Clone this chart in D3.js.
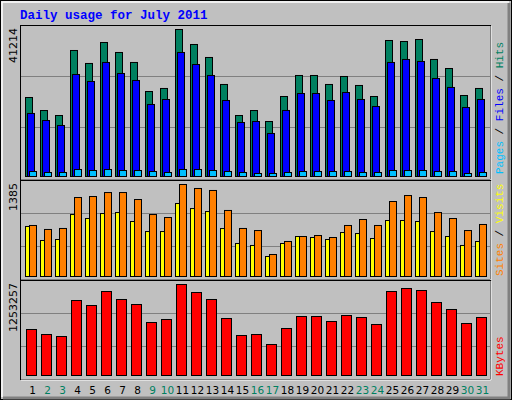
<!DOCTYPE html><html><head><meta charset="utf-8">
<script src="https://cdn.jsdelivr.net/npm/d3@7"></script>
<style>body{margin:0;background:#fff}</style></head><body><svg id="c" width="512" height="400"></svg>
<script>
const days = d3.range(1,32);
const weekend = [2,3,9,10,16,17,23,24,30,31];
const hits = [22150,18500,17100,35330,31690,37570,34770,31970,23830,24680,41214,37010,33370,25800,17100,18500,15420,22430,28320,28320,25800,28040,25520,22430,38130,37850,38410,32810,30280,22710,24680];
const files = [17670,15700,14300,28600,26640,31970,28880,26920,20190,21590,34770,31400,28320,21310,15140,15420,12060,18510,23270,23270,21310,23550,21590,19630,31970,32810,32250,27480,24960,19350,21590];
const pages = [1400,1120,1120,1960,1680,1960,1680,1680,1400,1120,1960,1960,1680,1400,1120,840,840,1120,1400,1400,1400,1400,1120,1120,1680,1680,1680,1400,1400,840,1120];
const visits = [768,708,723,1189,1204,1264,1264,1159,933,888,1385,1325,1295,994,723,692,331,527,602,617,587,768,858,768,1129,1219,1189,963,873,692,783];
const sites = [753,542,557,933,873,948,963,828,677,677,1099,1023,978,722,497,467,301,497,602,587,557,662,647,572,843,843,828,677,602,467,527];
const kbytes = [633500,564650,537100,1032900,964000,1156800,1046700,977800,729900,771200,1253257,1143100,1046700,785000,550900,564650,426900,647300,812500,812500,743700,826300,798800,702400,1156800,1198200,1170600,1005400,909000,716100,798800];
const maxLabels = ["41214","1385","1253257"];

const svg = d3.select("#c");
svg.append("rect").attr("x",0.5).attr("y",0.5).attr("width",511).attr("height",399).attr("fill","#c0c0c0").attr("stroke","#000");
svg.append("path").attr("d","M2,397V2H509").attr("stroke","#fff").attr("fill","none").attr("stroke-width",1.5);
svg.append("path").attr("d","M509,3V398H3").attr("stroke","#808080").attr("fill","none").attr("stroke-width",3);
svg.append("text").attr("x",20).attr("y",19).text("Daily usage for July 2011")
  .attr("font-family","Liberation Mono, DejaVu Sans Mono, monospace").attr("font-weight","bold").attr("font-size",12.5).attr("fill","#0000ff");

const x = d3.scaleBand().domain(days).range([24,489]).paddingInner(0);
const bw = x.bandwidth();
const panels = [
  {top:25,bottom:179,base:176,max:41214,grids:[127,76]},
  {top:180,bottom:279,base:276,max:1385,grids:[246,213]},
  {top:280,bottom:379,base:375,max:1253257,grids:[346,313]}
];
panels.forEach((p,i)=>{
  svg.append("rect").attr("x",20.5).attr("y",p.top+0.5).attr("width",470).attr("height",p.bottom-p.top).attr("fill","#c0c0c0").attr("stroke","#000");
  svg.append("path").attr("d",`M491,${p.top+1}V${p.bottom+1}H21`).attr("stroke","#fff").attr("fill","none");
  p.grids.forEach(g=>svg.append("line").attr("x1",21).attr("x2",490).attr("y1",g+0.5).attr("y2",g+0.5).attr("stroke","#808080"));
  svg.append("text").attr("transform",`translate(17,${p.top+3}) rotate(-90)`).attr("text-anchor","end")
    .attr("font-family","DejaVu Sans, sans-serif").attr("font-size",11).text(maxLabels[i]);
});
function bars(vals,p,dx,w,color){
  const y = d3.scaleLinear().domain([0,panels[p].max]).range([panels[p].base, panels[p].base - (p==0?147:(p==1?92:91))]);
  svg.append("g").selectAll("rect").data(vals).join("rect")
    .attr("x",(d,i)=>x(days[i])+dx+0.5).attr("y",d=>y(d)+0.5).attr("width",w).attr("height",d=>panels[p].base-y(d))
    .attr("fill",color).attr("stroke","#000");
}
bars(hits,0,1,7,"#008060");
bars(files,0,3,7,"#0000ff");
bars(pages,0,5,7,"#00c0ff");
bars(sites,1,1,4,"#ffff00");
bars(visits,1,5,7,"#ff8000");
bars(kbytes,2,2,10,"#ff0000");

svg.append("g").selectAll("text").data(days).join("text")
  .attr("x",d=>x(d)+bw/2+1).attr("y",394).attr("text-anchor","middle")
  .attr("font-family","DejaVu Sans, sans-serif").attr("font-size",10.5)
  .attr("fill",d=>weekend.includes(d)?"#008060":"#000").text(d=>d);

function sideLabel(yEnd, parts){
  const t = svg.append("text").attr("transform",`translate(503,${yEnd}) rotate(-90)`)
    .attr("font-family","Liberation Mono, DejaVu Sans Mono, monospace").attr("font-size",11);
  parts.forEach(([s,c])=>t.append("tspan").attr("fill",c).text(s));
}
sideLabel(174,[["Pages","#00c0ff"],[" / ","#000"],["Files","#0000ff"],[" / ","#000"],["Hits","#008060"]]);
sideLabel(276,[["Sites","#ff8000"],[" / ","#000"],["Visits","#ffff00"]]);
sideLabel(376,[["KBytes","#ff0000"]]);
</script></body></html>
